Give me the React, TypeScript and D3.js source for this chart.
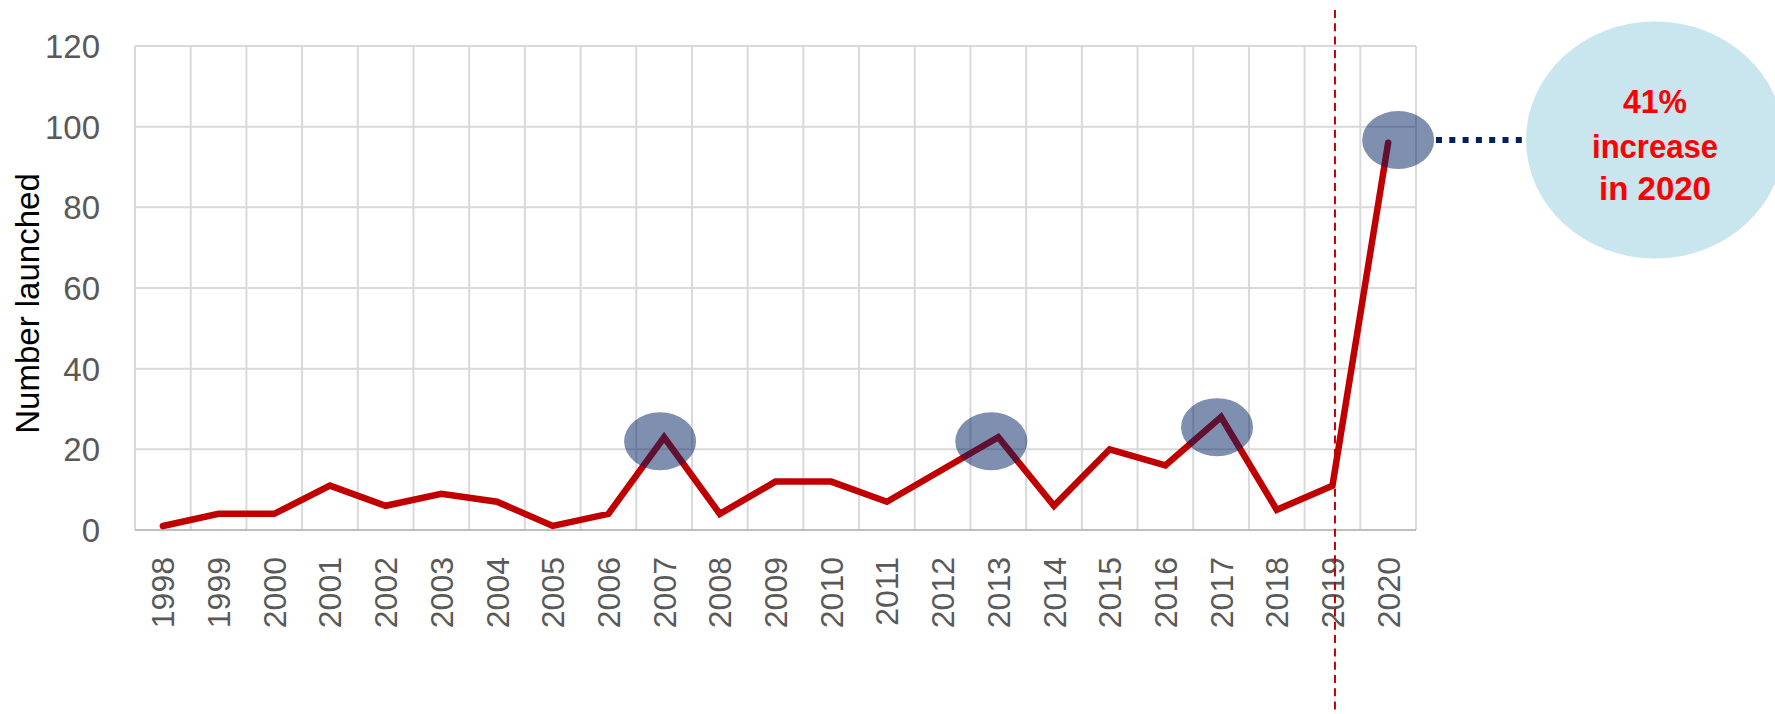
import React from "react";
import * as d3 from "d3";

const years = ["1998","1999","2000","2001","2002","2003","2004","2005","2006","2007","2008","2009","2010","2011","2012","2013","2014","2015","2016","2017","2018","2019","2020"];
const launched = [1,4,4,11,6,9,7,1,4,23,4,12,12,7,15,23,6,20,16,28,5,11,96];
const yTicks = [0,20,40,60,80,100,120];
const highlightYears = ["2007","2013","2017","2020"];
const highlightValues = [22,22,25.5,96.7];
const markerYear = "2019";
const calloutLines = ["41%","increase","in 2020"];
const yTitle = "Number launched";

const W = 1775, H = 714;
const left = 135, right = 1416, top = 46, bottom = 530;

export default function App() {
  const x = d3.scaleBand<string>().domain(years).range([left, right]).padding(0);
  const y = d3.scaleLinear().domain([0, 120]).range([bottom, top]);
  const cx = (yr: string) => (x(yr) as number) + x.bandwidth() / 2;
  const line = d3.line<number>().x((_, i) => cx(years[i])).y((d) => y(d));
  const hlDx = [-4, -7, -4, 10];
  const bounds = years.map((yr) => x(yr) as number).concat([right]);
  const tickFont = "'Liberation Sans', Arial, sans-serif";
  const calloutWidths = [64, 126, 112];
  const calloutBase = [113, 158, 200];
  const callCx = 1655, callCy = y(highlightValues[3]);
  return (
    <svg width={W} height={H} style={{ position: "absolute", left: 0, top: 0, background: "#fff" }}>
      {yTicks.filter((t) => t > 0).map((t) => (
        <line key={"h" + t} x1={left} x2={right} y1={y(t)} y2={y(t)} stroke="#D9D9D9" strokeWidth={2} />
      ))}
      {bounds.map((bx, i) => (
        <line key={"v" + i} x1={bx} x2={bx} y1={top} y2={bottom} stroke="#D9D9D9" strokeWidth={2} />
      ))}
      <line x1={left} x2={right} y1={bottom} y2={bottom} stroke="#BFBFBF" strokeWidth={2} />
      {yTicks.map((t) => (
        <text key={"yt" + t} x={100} y={y(t)} dy="0.36em" textAnchor="end" fontFamily={tickFont} fontSize={33} fill="#595959">{t}</text>
      ))}
      {years.map((yr) => (
        <text key={"xt" + yr} transform={`translate(${cx(yr)},557) rotate(-90)`} dy="0.36em" textAnchor="end" fontFamily={tickFont} fontSize={32} fill="#595959">{yr}</text>
      ))}
      <text transform={`translate(39,303.5) rotate(-90)`} textAnchor="middle" fontFamily={tickFont} fontSize={33} fill="#000">{yTitle}</text>
      <path d={line(launched) || ""} fill="none" stroke="#C00000" strokeWidth={6.5} strokeLinejoin="miter" strokeLinecap="round" />
      {highlightYears.map((yr, i) => (
        <ellipse key={"hl" + yr} cx={cx(yr) + hlDx[i]} cy={y(highlightValues[i])} rx={36} ry={29} fill="#002060" fillOpacity={0.5} />
      ))}
      <line x1={cx(markerYear) + 2.5} x2={cx(markerYear) + 2.5} y1={10} y2={H} stroke="#C00000" strokeWidth={2} strokeDasharray="8 5.3" />
      <line x1={1436} x2={1526} y1={callCy} y2={callCy} stroke="#002060" strokeWidth={6} strokeDasharray="6 7.3" />
      <ellipse cx={callCx} cy={callCy} rx={129} ry={118.5} fill="#C9E5EE" />
      {calloutLines.map((t, i) => (
        <text key={"c" + i} x={callCx} y={calloutBase[i]} textAnchor="middle" fontFamily={tickFont} fontWeight="bold" fontSize={33} fill="#FF0000" textLength={calloutWidths[i]} lengthAdjust="spacingAndGlyphs">{t}</text>
      ))}
    </svg>
  );
}
